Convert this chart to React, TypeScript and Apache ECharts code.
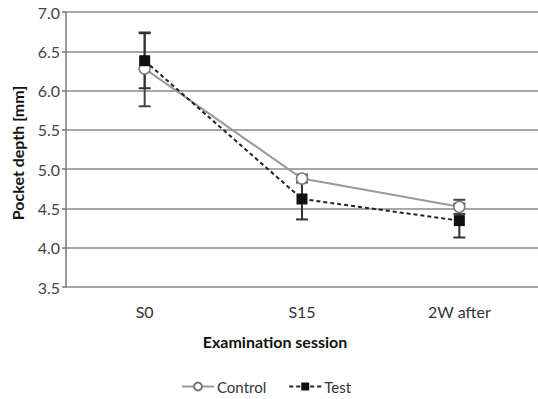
import React, { useEffect, useRef } from "react";
import * as echarts from "echarts";

const categories = ["S0", "S15", "2W after"];
const controlValues = [6.28, 4.88, 4.52];
const testValues = [6.38, 4.62, 4.345];
const controlLow = [5.8, 4.83, 4.43];
const controlHigh = [6.74, 4.93, 4.61];
const testLow = [6.03, 4.36, 4.13];
const testHigh = [6.73, 4.88, 4.56];
const yTicks = [3.5, 4.0, 4.5, 5.0, 5.5, 6.0, 6.5, 7.0];

const FONT = "Lato, 'Open Sans', sans-serif";

export default function App() {
  const ref = useRef<HTMLDivElement>(null);
  useEffect(() => {
    if (!ref.current) return;
    const chart = echarts.init(ref.current, undefined, { renderer: "svg" });

    const errData = (lo: number[], hi: number[]) =>
      categories.map((_, i) => [i, lo[i], hi[i]]);

    const errRender = (color: string) => (params: any, api: any) => {
      const x = api.value(0);
      const top = api.coord([x, api.value(2)]);
      const bot = api.coord([x, api.value(1)]);
      const hw = 6;
      const style = { stroke: color, lineWidth: 2 };
      return {
        type: "group",
        children: [
          { type: "line", shape: { x1: top[0], y1: top[1], x2: bot[0], y2: bot[1] }, style },
          { type: "line", shape: { x1: top[0] - hw, y1: top[1], x2: top[0] + hw, y2: top[1] }, style },
          { type: "line", shape: { x1: bot[0] - hw, y1: bot[1], x2: bot[0] + hw, y2: bot[1] }, style },
        ],
      };
    };

    chart.setOption({
      animation: false,
      backgroundColor: "#ffffff",
      grid: { left: 66, right: -5, top: 12, bottom: 112 },
      xAxis: {
        type: "category",
        data: categories,
        boundaryGap: true,
        axisLine: { show: false },
        axisTick: { show: false },
        axisLabel: { color: "#333", fontSize: 16, fontFamily: FONT, margin: 16 },
        splitLine: { show: false },
      },
      yAxis: {
        type: "value",
        min: yTicks[0],
        max: yTicks[yTicks.length - 1],
        interval: 0.5,
        axisLine: { show: true, lineStyle: { color: "#777", width: 1.5 } },
        axisTick: { show: true, length: 4, lineStyle: { color: "#777", width: 1.5 } },
        axisLabel: {
          color: "#444",
          fontSize: 16,
          fontFamily: FONT,
          margin: 6,
          formatter: (v: number) => v.toFixed(1),
        },
        splitLine: { show: true, lineStyle: { color: "#8a8a8a", width: 1.5 } },
      },
      legend: {
        bottom: 0,
        left: 176,
        itemWidth: 32,
        itemHeight: 10,
        itemGap: 22,
        textStyle: { color: "#333", fontSize: 15, fontFamily: FONT, padding: [0, 0, 0, -2] },
        data: ["Control", "Test"],
      },
      graphic: [
        {
          type: "text",
          rotation: Math.PI / 2,
          x: 17,
          y: 153,
          style: {
            text: "Pocket depth [mm]",
            fill: "#111",
            font: `bold 16px ${FONT}`,
            align: "center",
            verticalAlign: "middle",
          },
        },
        {
          type: "text",
          x: 275,
          y: 341,
          style: {
            text: "Examination session",
            fill: "#111",
            font: `bold 16px ${FONT}`,
            align: "center",
            verticalAlign: "middle",
          },
        },
      ],
      series: [
        {
          name: "ControlErr",
          type: "custom",
          data: errData(controlLow, controlHigh),
          renderItem: errRender("#444"),
          z: 1,
          silent: true,
        },
        {
          name: "TestErr",
          type: "custom",
          data: errData(testLow, testHigh),
          renderItem: errRender("#333"),
          z: 1,
          silent: true,
        },
        {
          name: "Control",
          type: "line",
          data: controlValues,
          symbol: "circle",
          symbolSize: 11,
          z: 3,
          lineStyle: { color: "#999", width: 2 },
          itemStyle: { color: "#fff", borderColor: "#777", borderWidth: 1.5 },
        },
        {
          name: "Test",
          type: "line",
          data: testValues,
          symbol: "rect",
          symbolSize: 11,
          z: 4,
          lineStyle: { color: "#222", width: 2, type: [4, 3] },
          itemStyle: { color: "#111", borderColor: "#111", borderWidth: 0 },
        },
      ],
    });
    return () => chart.dispose();
  }, []);
  return <div ref={ref} style={{ width: 538, height: 399, position: "absolute", left: 0, top: 0 }} />;
}
